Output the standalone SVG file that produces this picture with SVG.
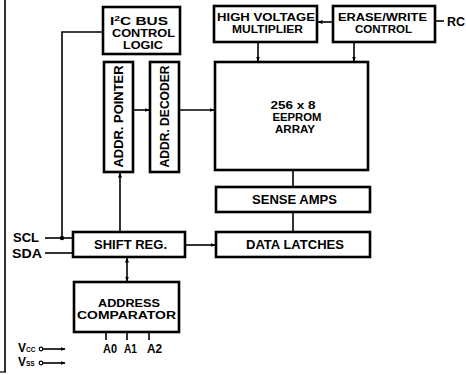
<svg xmlns="http://www.w3.org/2000/svg" width="466" height="375" viewBox="0 0 466 375">
<defs>
<marker id="ah" viewBox="0 0 10 10" refX="9" refY="5" markerWidth="5" markerHeight="5" orient="auto-start-reverse" markerUnits="userSpaceOnUse">
<path d="M0,1 L10,5 L0,9 Z" fill="#000"/>
</marker>
<style>
.box{fill:#fff;stroke:#000;stroke-width:2.6}
.ln{fill:none;stroke:#000;stroke-width:1.6}
text{font-family:"Liberation Sans",Arial,sans-serif;font-weight:bold;font-size:12px;fill:#000}
.m{font-size:10.4px}
.c{text-anchor:middle}
</style>
</defs>
<rect width="466" height="375" fill="#fff"/>
<line x1="5" y1="0" x2="5" y2="372" stroke="#000" stroke-width="1.6"/>
<line x1="0" y1="372" x2="6" y2="372" stroke="#000" stroke-width="1.2"/>

<g id="connectors">
<polyline class="ln" points="103,32 62,32 62,238"/>
<line class="ln" x1="45" y1="238" x2="73" y2="238"/>
<circle cx="62" cy="238" r="2.2" fill="#000"/>
<line class="ln" x1="45" y1="253" x2="73" y2="253"/>
<line class="ln" x1="435" y1="21" x2="444" y2="21"/>
<line class="ln" x1="333" y1="22" x2="318" y2="22" marker-end="url(#ah)"/>
<line class="ln" x1="258" y1="42" x2="258" y2="61" marker-end="url(#ah)"/>
<line class="ln" x1="354" y1="42" x2="354" y2="61" marker-end="url(#ah)"/>
<line class="ln" x1="133" y1="110" x2="149" y2="110" marker-end="url(#ah)"/>
<line class="ln" x1="179" y1="110" x2="214" y2="110" marker-end="url(#ah)"/>
<line class="ln" x1="293" y1="170" x2="293" y2="187"/>
<line class="ln" x1="293" y1="212" x2="293" y2="232"/>
<line class="ln" x1="185" y1="245" x2="215" y2="245" marker-end="url(#ah)"/>
<line class="ln" x1="120" y1="232" x2="120" y2="173" marker-end="url(#ah)"/>
<line class="ln" x1="127" y1="258" x2="127" y2="281" marker-start="url(#ah)" marker-end="url(#ah)"/>
<line class="ln" x1="106" y1="332" x2="106" y2="340"/>
<line class="ln" x1="127" y1="332" x2="127" y2="340"/>
<line class="ln" x1="149" y1="332" x2="149" y2="340"/>
<circle cx="41" cy="349" r="1.8" fill="#fff" stroke="#000" stroke-width="1.2"/>
<line class="ln" x1="43" y1="349" x2="65" y2="349" marker-end="url(#ah)"/>
<circle cx="41" cy="363" r="1.8" fill="#fff" stroke="#000" stroke-width="1.2"/>
<line class="ln" x1="43" y1="363" x2="65" y2="363" marker-end="url(#ah)"/>
</g>

<g id="i2c">
<rect class="box" x="103" y="7" width="77" height="47"/>
<text x="110" y="25" class="m" textLength="58" lengthAdjust="spacingAndGlyphs">I<tspan font-size="7" dy="-4">2</tspan><tspan dy="4">C BUS</tspan></text>
<text x="143.5" y="37" class="c m" textLength="63" lengthAdjust="spacingAndGlyphs">CONTROL</text>
<text x="143" y="49" class="c m" textLength="40" lengthAdjust="spacingAndGlyphs">LOGIC</text>
</g>

<g id="hv">
<rect class="box" x="214" y="6" width="103" height="36"/>
<text x="266" y="21" class="c m" textLength="98" lengthAdjust="spacingAndGlyphs">HIGH VOLTAGE</text>
<text x="267.5" y="33" class="c m" textLength="71" lengthAdjust="spacingAndGlyphs">MULTIPLIER</text>
</g>

<g id="erase">
<rect class="box" x="333" y="6" width="102" height="36"/>
<text x="382.5" y="21" class="c m" textLength="89" lengthAdjust="spacingAndGlyphs">ERASE/WRITE</text>
<text x="383.5" y="33" class="c m" textLength="57" lengthAdjust="spacingAndGlyphs">CONTROL</text>
</g>

<g id="rc">
<text x="447" y="26" textLength="18" lengthAdjust="spacingAndGlyphs">RC</text>
</g>

<g id="eeprom">
<rect class="box" x="215" y="62" width="153" height="108"/>
<text x="293" y="109" class="c m" textLength="45" lengthAdjust="spacingAndGlyphs">256 x 8</text>
<text x="297" y="121" class="c m" textLength="49" lengthAdjust="spacingAndGlyphs">EEPROM</text>
<text x="295" y="133" class="c m" textLength="40" lengthAdjust="spacingAndGlyphs">ARRAY</text>
</g>

<g id="pointer">
<rect class="box" x="104" y="62" width="29" height="110"/>
<text transform="translate(122.5,116.5) rotate(-90)" class="c" textLength="102" lengthAdjust="spacingAndGlyphs">ADDR. POINTER</text>
</g>

<g id="decoder">
<rect class="box" x="150" y="62" width="29" height="110"/>
<text transform="translate(169,116.5) rotate(-90)" class="c" textLength="102" lengthAdjust="spacingAndGlyphs">ADDR. DECODER</text>
</g>

<g id="sense">
<rect class="box" x="216" y="187" width="154" height="25"/>
<text x="294.5" y="204" class="c" textLength="85" lengthAdjust="spacingAndGlyphs">SENSE AMPS</text>
</g>

<g id="latches">
<rect class="box" x="216" y="232" width="154" height="25"/>
<text x="295" y="249" class="c" textLength="98" lengthAdjust="spacingAndGlyphs">DATA LATCHES</text>
</g>

<g id="shift">
<rect class="box" x="73" y="232" width="112" height="25"/>
<text x="130.5" y="249" class="c" textLength="73" lengthAdjust="spacingAndGlyphs">SHIFT REG.</text>
</g>

<g id="comparator">
<rect class="box" x="74" y="282" width="105" height="50"/>
<text x="129" y="307" class="c m" textLength="62" lengthAdjust="spacingAndGlyphs">ADDRESS</text>
<text x="126.5" y="319" class="c m" textLength="99" lengthAdjust="spacingAndGlyphs">COMPARATOR</text>
</g>

<g id="pins">
<text x="13" y="242" textLength="26" lengthAdjust="spacingAndGlyphs">SCL</text>
<text x="12" y="258" textLength="30" lengthAdjust="spacingAndGlyphs">SDA</text>
<text x="103" y="353" textLength="14" lengthAdjust="spacingAndGlyphs">A0</text>
<text x="124" y="353" textLength="13" lengthAdjust="spacingAndGlyphs">A1</text>
<text x="147" y="353" textLength="15" lengthAdjust="spacingAndGlyphs">A2</text>
<text x="18" y="352" font-size="9">V<tspan font-size="6.5">CC</tspan></text>
<text x="18" y="366" font-size="9">V<tspan font-size="6.5">SS</tspan></text>
</g>
</svg>
